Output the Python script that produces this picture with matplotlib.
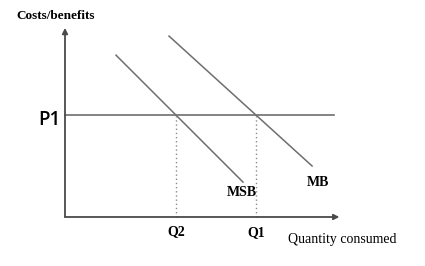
import matplotlib
matplotlib.use('Agg')
import matplotlib.pyplot as plt

# diagram values (quantity units on x, cost/benefit units on y)
p1 = 3.75
q2 = 4.07
q1 = 7.0
msb_x = [1.87, 6.52]
msb_y = [5.93, 1.28]
mb_x = [3.81, 9.05]
mb_y = [6.63, 1.87]
p1_end = 9.85
x_max = 10.0
y_max = 6.78

line_col = '#6e6e6e'
axis_col = '#4a4a4a'
serif = ['Liberation Serif', 'DejaVu Serif']

fig = plt.figure(figsize=(4.25, 2.66), dpi=100)
ax = fig.add_axes([65 / 425, (266 - 217) / 266, 273 / 425, 185 / 266])
ax.set_xlim(0, x_max)
ax.set_ylim(0, y_max)
ax.axis('off')

# axes with arrowheads
ax.annotate('', xy=(0, y_max + 0.15), xytext=(0, 0), annotation_clip=False,
            arrowprops=dict(arrowstyle='-|>', color=axis_col, lw=1.3,
                            mutation_scale=8, shrinkA=0, shrinkB=0))
ax.annotate('', xy=(x_max + 0.05, 0), xytext=(0, 0), annotation_clip=False,
            arrowprops=dict(arrowstyle='-|>', color=axis_col, lw=1.3,
                            mutation_scale=8, shrinkA=0, shrinkB=0))

# price line and curves
ax.plot([0, p1_end], [p1, p1], color=line_col, lw=1.2, clip_on=False)
ax.plot(msb_x, msb_y, color=line_col, lw=1.1)
ax.plot(mb_x, mb_y, color=line_col, lw=1.1)

# dotted drop lines
ax.plot([q2, q2], [0, p1], color='#8a8a8a', lw=1.0, ls=(0, (1, 2)))
ax.plot([q1, q1], [0, p1], color='#8a8a8a', lw=1.0, ls=(0, (1, 2)))

# labels
ax.text(-0.33, 7.36, 'Costs/benefits', ha='center', va='center', fontsize=9.5,
        family=serif, weight='bold', clip_on=False)
ax.text(-0.59, 3.55, 'P1', ha='center', va='center', fontsize=13.5,
        family=['Open Sans', 'DejaVu Sans'], weight='semibold', clip_on=False)
ax.text(6.48, 0.88, 'MSB', ha='center', va='center', fontsize=10, family=serif, weight='bold')
ax.text(9.27, 1.28, 'MB', ha='center', va='center', fontsize=10, family=serif, weight='bold')
ax.text(q2, -0.55, 'Q2', ha='center', va='center', fontsize=10, family=serif, weight='bold',
        clip_on=False)
ax.text(q1, -0.59, 'Q1', ha='center', va='center', fontsize=10, family=serif, weight='bold',
        clip_on=False)
ax.text(10.15, -0.84, 'Quantity consumed', ha='center', va='center', fontsize=10,
        family=serif, clip_on=False)

fig.savefig('out.png', dpi=100)
